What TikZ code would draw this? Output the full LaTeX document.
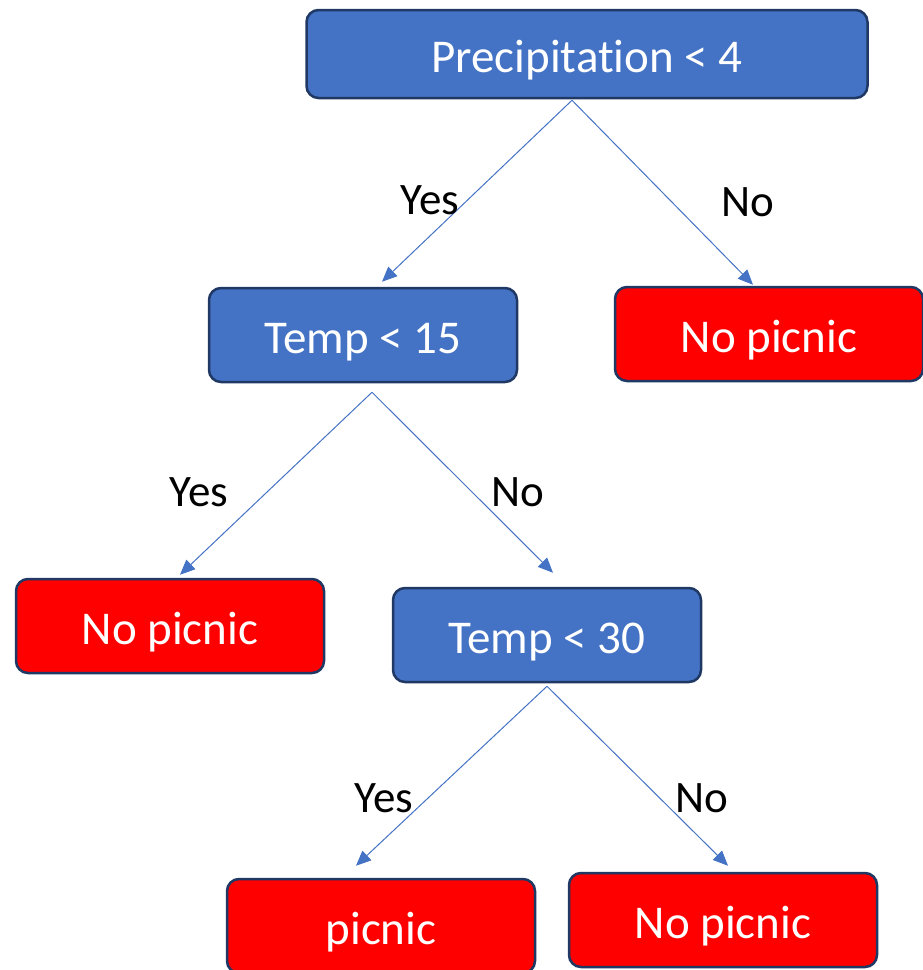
\documentclass[tikz,border=0pt]{standalone}
\usepackage{fontspec}
\setmainfont{Carlito}[Ligatures=NoCommon]
\usetikzlibrary{arrows.meta}
\definecolor{testblue}{HTML}{4472C4}
\definecolor{leafred}{HTML}{FF0000}
\definecolor{edgenavy}{HTML}{1F3864}
\begin{document}
\begin{tikzpicture}[x=1pt,y=-1pt,
  box/.style={draw=edgenavy,line width=2.5pt,rounded corners=12pt,
    minimum width=308pt,minimum height=94pt,inner sep=0pt,
    text height=36pt,text depth=0pt,
    text=white,font=\fontsize{47}{52}\selectfont},
  test/.style={box,fill=testblue},
  leaf/.style={box,fill=leafred},
  lbl/.style={font=\fontsize{45}{50}\selectfont,text=black,inner sep=0pt},
  arr/.style={draw=testblue,line width=1pt,
    -{Triangle[length=15pt,width=13pt]}}]
\useasboundingbox (0,0) rectangle (923,970);
\clip (0,0) rectangle (923,970);

% decision nodes
\node[test,minimum width=561pt,minimum height=88pt] (root) at (587,54) {Precipitation < 4};
\node[test] (t15) at (363,335) {Temp < 15};
\node[test] (t30) at (547,635) {Temp < 30};

% outcome leaves
\node[leaf] (leafA) at (769,334) {No picnic};
\node[leaf] (leafB) at (170,626) {No picnic};
\node[leaf] (leafC) at (381,926) {picnic};
\node[leaf] (leafD) at (723,920) {No picnic};

% branches (shifts are in page direction: positive yshift goes up)
\draw[arr] ([xshift=-15pt,yshift=-1pt]root.south) -- ([xshift=19pt,yshift=5pt]t15.north);
\draw[arr] ([xshift=-15pt,yshift=-1pt]root.south) -- ([xshift=-16pt,yshift=1pt]leafA.north);
\draw[arr] ([xshift=9pt,yshift=-9pt]t15.south) -- ([xshift=10pt,yshift=3pt]leafB.north);
\draw[arr] ([xshift=9pt,yshift=-9pt]t15.south) -- ([xshift=6pt,yshift=14pt]t30.north);
\draw[arr] ([yshift=-3pt]t30.south) -- ([xshift=-25pt,yshift=12pt]leafC.north);
\draw[arr] ([yshift=-3pt]t30.south) -- ([xshift=5pt,yshift=6pt]leafD.north);

% branch labels
\node[lbl] (y1) at (430,200) {Yes};
\node[lbl] (n1) at (748,202) {No};
\node[lbl] (y2) at (199,492) {Yes};
\node[lbl] (n2) at (518,492) {No};
\node[lbl] (y3) at (384,798) {Yes};
\node[lbl] (n3) at (702,798) {No};
\end{tikzpicture}
\end{document}
